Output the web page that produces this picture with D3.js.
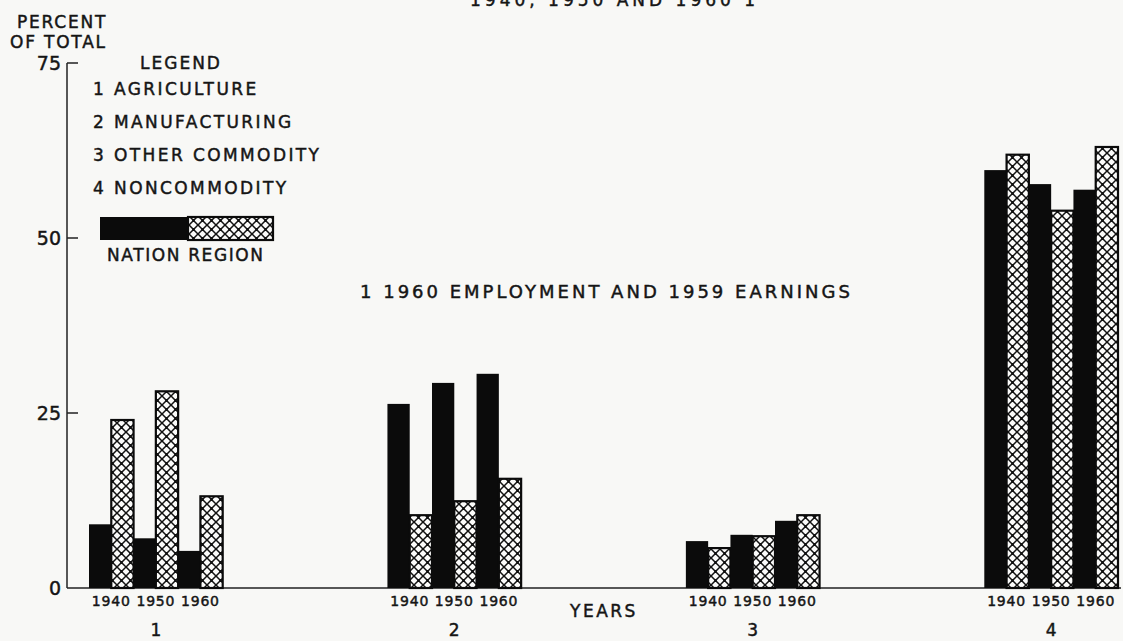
<!DOCTYPE html>
<html>
<head>
<meta charset="utf-8">
<script src="https://cdn.jsdelivr.net/npm/d3@7"></script>
<style>
  body { margin: 0; background: #f8f8f6; }
  svg { display: block; }
  text { font-family: "DejaVu Sans", sans-serif; fill: #151515; stroke: #151515; stroke-width: 0.45px; }
</style>
</head>
<body>
<div id="chart"></div>
<script>
// values (percent of total)
let categories = ["1", "2", "3", "4"]
let years = ["1940", "1950", "1960"]
let nation = [
  [9.1, 7.1, 5.3],
  [26.3, 29.3, 30.6],
  [6.7, 7.6, 9.6],
  [59.7, 57.7, 56.9]
]
let region = [
  [24.0, 28.1, 13.1],
  [10.4, 12.4, 15.6],
  [5.7, 7.4, 10.4],
  [61.9, 53.9, 63.0]
]
let yTicks = [0, 25, 50, 75]
let legendItems = ["1 AGRICULTURE", "2 MANUFACTURING", "3 OTHER COMMODITY", "4 NONCOMMODITY"]

let width = 1123
let height = 641

let svg = d3.select("#chart")
  .append("svg")
  .attr("width", width)
  .attr("height", height)

let defs = svg.append("defs")
let pat = defs.append("pattern")
  .attr("id", "hatch")
  .attr("patternUnits", "userSpaceOnUse")
  .attr("width", 9)
  .attr("height", 9)
pat.append("rect").attr("width", 9).attr("height", 9).attr("fill", "#fbfbfa")
pat.append("path")
  .attr("d", "M0,0 L9,9 M9,0 L0,9 M-1,8 L1,10 M8,-1 L10,1 M-1,1 L1,-1 M8,10 L10,8")
  .attr("stroke", "#111")
  .attr("stroke-width", 1.5)
pat.append("circle").attr("cx", 4.5).attr("cy", 4.5).attr("r", 1.4).attr("fill", "#111")

let y = d3.scaleLinear()
  .domain([0, 75])
  .range([588, 63])

let x = d3.scaleBand()
  .domain(categories)
  .range([89, 1118])
  .paddingInner(0.552)
  .paddingOuter(0)

let keys = []
years.forEach(yr => { keys.push(yr + "N"); keys.push(yr + "R") })
let xi = d3.scaleBand()
  .domain(keys)
  .range([0, x.bandwidth()])

let bars = []
categories.forEach((c, i) => {
  years.forEach((yr, j) => {
    bars.push({ cat: c, key: yr + "N", value: nation[i][j], type: "N" })
    bars.push({ cat: c, key: yr + "R", value: region[i][j], type: "R" })
  })
})

// title line, cut off at the top of the scan
svg.append("text")
  .attr("x", 470)
  .attr("y", 6)
  .style("font-size", "17px")
  .style("letter-spacing", "4px")
  .text("1940, 1950 AND 1960 1")

// y axis
let axis = svg.append("g")
axis.append("line")
  .attr("x1", 67).attr("x2", 67)
  .attr("y1", y(75)).attr("y2", y(0))
  .attr("stroke", "#222").attr("stroke-width", 1.5)
axis.selectAll(".tick")
  .data(yTicks.filter(d => d > 0))
  .join("line")
  .attr("x1", 67).attr("x2", 78)
  .attr("y1", d => y(d)).attr("y2", d => y(d))
  .attr("stroke", "#222").attr("stroke-width", 1.5)
axis.selectAll(".lbl")
  .data(yTicks)
  .join("text")
  .attr("x", 61)
  .attr("y", d => y(d) + 7)
  .attr("text-anchor", "end")
  .style("font-size", "19px")
  .text(d => d)

svg.append("text").attr("x", 17).attr("y", 28)
  .style("font-size", "17px").style("letter-spacing", "1.8px")
  .text("PERCENT")
svg.append("text").attr("x", 10).attr("y", 48)
  .style("font-size", "17px").style("letter-spacing", "1.8px")
  .text("OF TOTAL")

// baseline
svg.append("line")
  .attr("x1", 67).attr("x2", 1121)
  .attr("y1", y(0)).attr("y2", y(0))
  .attr("stroke", "#222").attr("stroke-width", 1.5)

// bars
let g = svg.append("g")
g.selectAll("rect")
  .data(bars)
  .join("rect")
  .attr("x", d => x(d.cat) + xi(d.key))
  .attr("y", d => y(d.value))
  .attr("width", xi.bandwidth())
  .attr("height", d => y(0) - y(d.value))
  .attr("fill", d => d.type == "N" ? "#0b0b0b" : "url(#hatch)")
  .attr("stroke", d => d.type == "N" ? "none" : "#0b0b0b")
  .attr("stroke-width", 2.2)

// year labels under each pair
categories.forEach(c => {
  svg.append("g").selectAll("text")
    .data(years)
    .join("text")
    .attr("x", yr => x(c) + xi(yr + "R"))
    .attr("y", 606)
    .attr("text-anchor", "middle")
    .style("font-size", "14px")
    .style("letter-spacing", "0.8px")
    .text(yr => yr)
})

// category numbers
svg.selectAll(".cat")
  .data(categories)
  .join("text")
  .attr("x", d => x(d) + x.bandwidth() / 2)
  .attr("y", 636)
  .attr("text-anchor", "middle")
  .style("font-size", "17px")
  .text(d => d)

svg.append("text").attr("x", 570).attr("y", 617)
  .style("font-size", "17px").style("letter-spacing", "2.5px")
  .text("YEARS")

// legend
svg.append("text").attr("x", 140).attr("y", 69)
  .style("font-size", "17px").style("letter-spacing", "2px")
  .text("LEGEND")
svg.selectAll(".leg")
  .data(legendItems)
  .join("text")
  .attr("x", 93)
  .attr("y", (d, i) => 95 + i * 33)
  .style("font-size", "17px")
  .style("letter-spacing", "2.4px")
  .text(d => d)

svg.append("rect")
  .attr("x", 100).attr("y", 217).attr("width", 88).attr("height", 23)
  .attr("fill", "#0b0b0b")
svg.append("rect")
  .attr("x", 188).attr("y", 217).attr("width", 85).attr("height", 23)
  .attr("fill", "url(#hatch)")
  .attr("stroke", "#0b0b0b").attr("stroke-width", 2.2)
svg.append("text").attr("x", 107).attr("y", 261)
  .style("font-size", "17px").style("letter-spacing", "1.6px")
  .text("NATION REGION")

svg.append("text").attr("x", 360).attr("y", 298)
  .style("font-size", "18px").style("letter-spacing", "3px")
  .text("1 1960 EMPLOYMENT AND 1959 EARNINGS")
</script>
</body>
</html>
